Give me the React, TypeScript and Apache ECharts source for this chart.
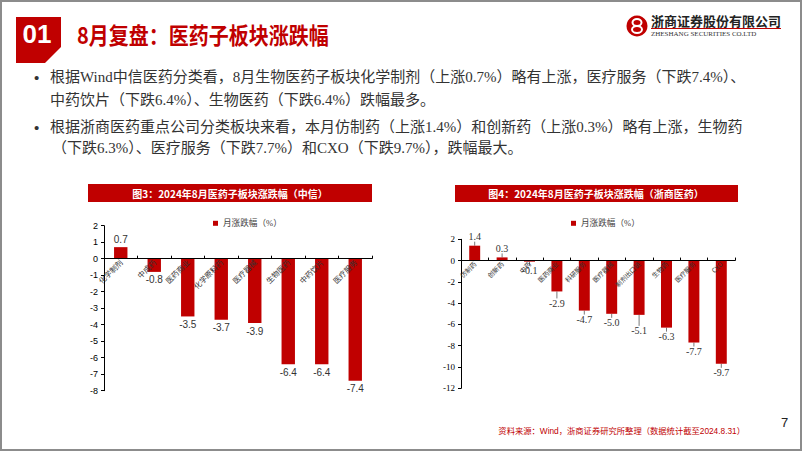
import React, { useEffect, useRef } from "react";
import * as echarts from "echarts";

const slideTitle = "8月复盘：医药子板块涨跌幅";
const sectionNo = "01";
const companyCn = "浙商证券股份有限公司";
const companyEn = "ZHESHANG SECURITIES CO.LTD";
const bulletLines = [
  "根据Wind中信医药分类看，8月生物医药子板块化学制剂（上涨0.7%）略有上涨，医疗服务（下跌7.4%）、",
  "中药饮片（下跌6.4%）、生物医药（下跌6.4%）跌幅最多。",
  "根据浙商医药重点公司分类板块来看，本月仿制药（上涨1.4%）和创新药（上涨0.3%）略有上涨，生物药",
  "（下跌6.3%）、医疗服务（下跌7.7%）和CXO（下跌9.7%），跌幅最大。",
];
const leftTitle = "图3：2024年8月医药子板块涨跌幅（中信）";
const rightTitle = "图4：2024年8月医药子板块涨跌幅（浙商医药）";
const seriesName = "月涨跌幅（%）";
const sourceText = "资料来源：Wind，浙商证券研究所整理（数据统计截至2024.8.31）";
const pageNo = "7";

const leftCategories = ["化学制剂", "中成药", "医药商业", "化学原料药", "医疗器械", "生物医药", "中药饮片", "医疗服务"];
const leftValues = [0.7, -0.8, -3.5, -3.7, -3.9, -6.4, -6.4, -7.4];
const leftAxis = { min: -8, max: 2, interval: 1 };

const rightCategories = ["仿制药", "创新药", "中药", "医药商业", "科研服务", "医疗器械", "制剂出口链", "生物药", "医疗服务", "CXO"];
const rightValues = [1.4, 0.3, -0.1, -2.9, -4.7, -5.0, -5.1, -6.3, -7.7, -9.7];
const rightAxis = { min: -12, max: 2, interval: 2 };

const RED = "#C00000";
const CJK = "'Noto Sans CJK SC', sans-serif";
const SERIF_CJK = "'Liberation Serif', 'Noto Sans CJK SC', serif";
const SANS = "'Liberation Sans', 'Noto Sans CJK SC', sans-serif";

const leftGrid = { left: 104, top: 225.7, width: 268, height: 165 };
const rightGrid = { left: 461, top: 239.3, width: 274, height: 149 };

function barData(values: number[]) {
  return values.map((v) => ({ value: v, label: { position: v >= 0 ? "top" : "bottom" } }));
}

// distance from grid bottom to the zero line, from the axis range
function zeroOffset(ax: { min: number; max: number }, height: number) {
  return -((0 - ax.min) / (ax.max - ax.min)) * height;
}

export default function App() {
  const ref = useRef<HTMLDivElement>(null);
  useEffect(() => {
    document.body.style.margin = "0";
    if (!ref.current) return;
    const chart = echarts.init(ref.current, undefined, { renderer: "svg" });

    const xAxisBase = (gridIndex: number, data: string[], fs: number, offset: number) => ({
      type: "category",
      gridIndex,
      data,
      z: 5,
      position: "bottom",
      offset,
      axisLine: { onZero: false, lineStyle: { color: "#000", width: 1 } },
      axisTick: { show: true, inside: true, length: 3, lineStyle: { color: "#000" } },
      axisLabel: { rotate: 45, interval: 0, fontSize: fs, color: "#333", margin: 2, fontFamily: CJK },
    });
    const yAxisBase = (gridIndex: number, ax: { min: number; max: number; interval: number }, font: string) => ({
      type: "value",
      gridIndex,
      min: ax.min,
      max: ax.max,
      interval: ax.interval,
      splitLine: { show: false },
      axisLine: { show: true, lineStyle: { color: "#000", width: 1 } },
      axisTick: { show: true, length: 3, lineStyle: { color: "#000" } },
      axisLabel: { fontSize: 9, color: "#000", margin: 6, fontFamily: font },
    });

    const legendBase = (left: number) => ({
      left,
      top: 214,
      itemWidth: 5,
      itemHeight: 5,
      icon: "rect",
      data: [seriesName],
      textStyle: { fontSize: 8.6, color: "#404040", fontFamily: SERIF_CJK },
      selectedMode: false,
    });

    const option: any = {
      animation: false,
      backgroundColor: "#fff",
      legend: [legendBase(208), legendBase(566)],
      grid: [leftGrid, rightGrid],
      xAxis: [
        xAxisBase(0, leftCategories, 7.5, zeroOffset(leftAxis, leftGrid.height)),
        xAxisBase(1, rightCategories, 6.5, zeroOffset(rightAxis, rightGrid.height)),
      ],
      yAxis: [yAxisBase(0, leftAxis, SANS), yAxisBase(1, rightAxis, SERIF_CJK)],
      series: [
        {
          type: "bar",
          name: seriesName,
          xAxisIndex: 0,
          yAxisIndex: 0,
          barWidth: "40%",
          itemStyle: { color: RED },
          label: {
            show: true,
            distance: 3,
            fontSize: 10,
            color: "#333",
            fontFamily: SANS,
            formatter: (p: any) => Number(p.value).toFixed(1),
          },
          data: barData(leftValues),
        },
        {
          type: "bar",
          name: seriesName,
          xAxisIndex: 1,
          yAxisIndex: 1,
          barWidth: "40%",
          itemStyle: { color: RED },
          label: {
            show: true,
            distance: 4,
            fontSize: 10,
            color: "#333",
            fontFamily: SERIF_CJK,
            formatter: (p: any) => Number(p.value).toFixed(1),
          },
          labelLine: { show: true, lineStyle: { color: "#555", width: 0.8 } },
          labelLayout: (params: any) => {
            if (params.dataIndex === 3) return { dy: 3 };
            if (params.dataIndex === 6) return { dy: 7 };
            return {};
          },
          data: barData(rightValues),
        },
      ],
      graphic: [
        {
          type: "rect",
          shape: { x: 1, y: 1, width: 800, height: 449 },
          style: { fill: "none", stroke: "#8c8c8c", lineWidth: 2 },
          silent: true,
        },
        {
          type: "polygon",
          shape: { points: [[16, 17], [61, 17], [61, 47], [45, 63], [16, 63]] },
          style: { fill: RED },
        },
        {
          type: "text",
          x: 37,
          y: 34,
          style: {
            text: sectionNo,
            fill: "#fff",
            font: "bold 26px 'Liberation Sans Narrow', 'Liberation Sans', sans-serif",
            align: "center",
            verticalAlign: "middle",
          },
        },
        {
          type: "text",
          x: 77,
          y: 34,
          scaleX: 0.87,
          style: {
            text: slideTitle,
            fill: RED,
            font: "bold 23px 'Noto Sans CJK SC', sans-serif",
            align: "left",
            verticalAlign: "middle",
          },
        },
        // logo
        { type: "circle", shape: { cx: 637, cy: 26, r: 10.5 }, style: { fill: RED } },
        { type: "ellipse", shape: { cx: 637, cy: 22.5, rx: 4.5, ry: 3.5 }, style: { fill: "none", stroke: "#fff", lineWidth: 2 } },
        { type: "ellipse", shape: { cx: 637, cy: 29.5, rx: 5, ry: 3.5 }, style: { fill: "none", stroke: "#fff", lineWidth: 2 } },
        {
          type: "text",
          x: 651,
          y: 20,
          style: {
            text: companyCn,
            fill: "#222",
            font: "bold 13px 'Noto Sans CJK SC', sans-serif",
            align: "left",
            verticalAlign: "middle",
          },
        },
        { type: "line", shape: { x1: 651, y1: 28.5, x2: 781, y2: 28.5 }, style: { stroke: RED, lineWidth: 1 } },
        {
          type: "text",
          x: 651,
          y: 34,
          style: {
            text: companyEn,
            fill: "#333",
            font: "7px 'Liberation Serif', serif",
            align: "left",
            verticalAlign: "middle",
          },
        },
        { type: "text", x: 34, y: 77, style: { text: "•", fill: "#333", font: "15px 'Liberation Sans', sans-serif", verticalAlign: "middle" } },
        { type: "text", x: 34, y: 127, style: { text: "•", fill: "#333", font: "15px 'Liberation Sans', sans-serif", verticalAlign: "middle" } },
        ...bulletLines.map((t, i) => ({
          type: "text",
          x: i === 3 ? 52 : 50,
          y: [77, 100, 127, 148][i],
          style: {
            text: t,
            fill: "#333",
            font: "15px " + SERIF_CJK,
            align: "left",
            verticalAlign: "middle",
          },
        })),
        { type: "rect", shape: { x: 88, y: 184, width: 284, height: 18 }, style: { fill: RED } },
        {
          type: "text",
          x: 230,
          y: 193,
          style: { text: leftTitle, fill: "#fff", font: "bold 10px " + CJK, align: "center", verticalAlign: "middle" },
        },
        { type: "rect", shape: { x: 455, y: 185, width: 283, height: 17 }, style: { fill: RED } },
        {
          type: "text",
          x: 596,
          y: 193.5,
          style: { text: rightTitle, fill: "#fff", font: "bold 10px " + CJK, align: "center", verticalAlign: "middle" },
        },
        {
          type: "text",
          x: 745,
          y: 431,
          style: { text: sourceText, fill: RED, font: "8.3px " + SANS, align: "right", verticalAlign: "middle" },
        },
        {
          type: "text",
          x: 781,
          y: 422,
          style: { text: pageNo, fill: "#222", font: "13px " + SANS, align: "left", verticalAlign: "middle" },
        },
      ],
    };
    chart.setOption(option);
    return () => chart.dispose();
  }, []);
  return <div ref={ref} style={{ position: "fixed", left: 0, top: 0, width: 802, height: 451 }} />;
}
